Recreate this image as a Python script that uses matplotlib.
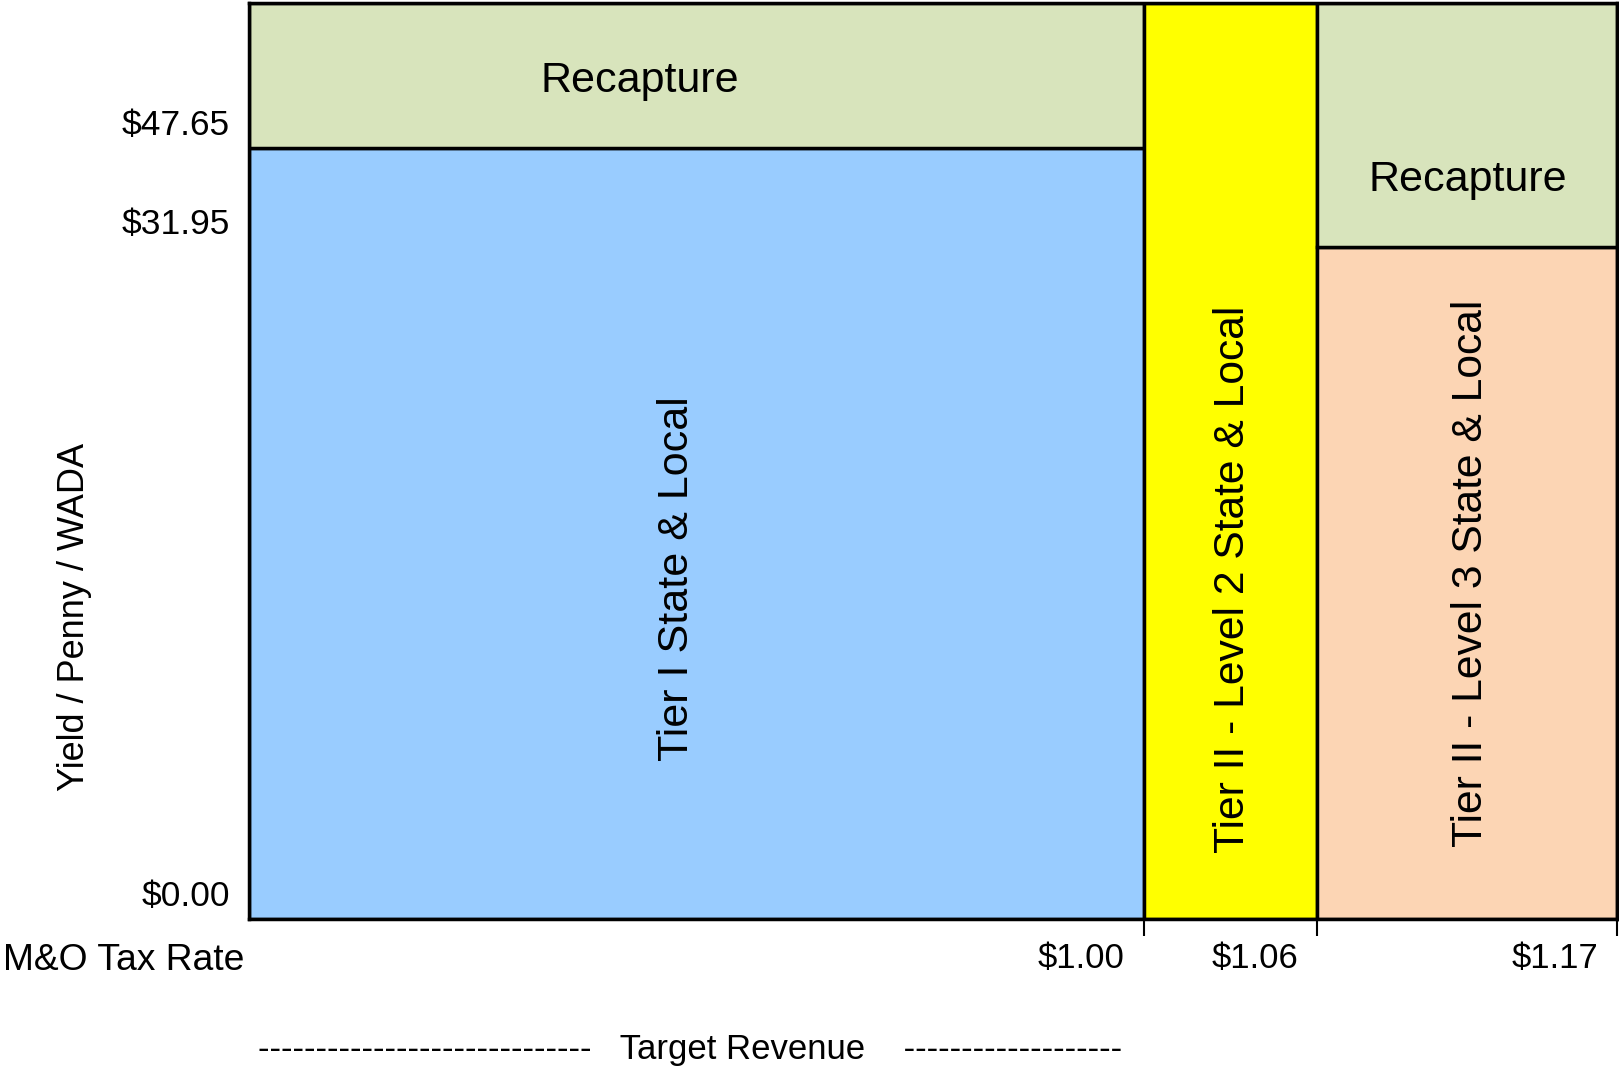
import matplotlib
matplotlib.use("Agg")
import matplotlib.pyplot as plt
from matplotlib.patches import Rectangle

plt.rcParams['font.family'] = ['Liberation Sans', 'DejaVu Sans']

# Funding tiers and the values that mark their boundaries
tax_rate_labels = ["$1.00", "$1.06", "$1.17"]
yield_labels = ["$0.00", "$31.95", "$47.65"]
section_names = ["Tier I State & Local",
                 "Tier II - Level 2 State & Local",
                 "Tier II - Level 3 State & Local"]
recapture_name = "Recapture"

# Schematic layout (fractions of the plotting area; not to scale)
tier_edges = [0.0, 0.654, 0.781, 1.0]
yield_levels = [0.0, 0.734, 0.842]

GREEN = "#D8E4BC"
BLUE = "#99CCFF"
YELLOW = "#FFFF00"
PEACH = "#FCD5B4"
LW = 2.5

W, H = 1619, 1068
fig = plt.figure(figsize=(W / 100, H / 100), dpi=100)
ax = fig.add_axes([249 / W, 1 - 919 / H, (1617 - 249) / W, (919 - 3) / H])
ax.set_xlim(0, 1)
ax.set_ylim(0, 1)

def box(x0, x1, y0, y1, color):
    ax.add_patch(Rectangle((x0, y0), x1 - x0, y1 - y0, facecolor=color,
                           edgecolor="black", linewidth=LW, zorder=2))

# Tier I with recapture above the $47.65 yield
box(tier_edges[0], tier_edges[1], yield_levels[0], yield_levels[2], BLUE)
box(tier_edges[0], tier_edges[1], yield_levels[2], 1.0, GREEN)
# Tier II level 2
box(tier_edges[1], tier_edges[2], yield_levels[0], 1.0, YELLOW)
# Tier II level 3 with recapture above the $31.95 yield
box(tier_edges[2], tier_edges[3], yield_levels[0], yield_levels[1], PEACH)
box(tier_edges[2], tier_edges[3], yield_levels[1], 1.0, GREEN)

for side in ax.spines.values():
    side.set_linewidth(LW)
    side.set_zorder(3)

# Labels inside the sections
ax.text(0.286, 0.915, recapture_name, fontsize=31, ha="center", va="center", zorder=4)
ax.text(0.891, 0.807, recapture_name, fontsize=31, ha="center", va="center", zorder=4)
ax.text(0.3125, 0.372, section_names[0], fontsize=31, rotation=90,
        ha="center", va="center", zorder=4)
ax.text(0.719, 0.371, section_names[1], fontsize=30.7, rotation=90,
        ha="center", va="center", zorder=4)
ax.text(0.8936, 0.377, section_names[2], fontsize=30.7, rotation=90,
        ha="center", va="center", zorder=4)

# Tax-rate ticks at the section boundaries
ax.set_xticks(tier_edges[1:])
ax.set_xticklabels([])
ax.tick_params(axis="x", direction="out", length=12.2, width=1.5, color="black")
ax.set_yticks([])
for x, lab in zip(tier_edges[1:], tax_rate_labels):
    ax.annotate(lab, xy=(x, 0), xycoords=("data", "axes fraction"),
                xytext=(-19, -39), textcoords="offset pixels",
                ha="right", va="center", fontsize=25)

# Yield labels sit just above their boundary lines
for y, lab in zip(yield_levels, yield_labels):
    ax.annotate(lab, xy=(0, y), xycoords=("axes fraction", "data"),
                xytext=(-19, 22), textcoords="offset pixels",
                ha="right", va="center", fontsize=25.5)

fig.text(3 / W, 1 - 960 / H, "M&O Tax Rate", fontsize=26.8, ha="left", va="center")
fig.text(75 / W, 1 - 617 / H, "Yield / Penny / WADA", fontsize=26,
         rotation=90, ha="center", va="center")
fig.text(258 / W, 1 - 1050 / H,
         "-" * 29 + "   Target Revenue    " + "-" * 19,
         fontsize=25, ha="left", va="center")

fig.savefig("out.png", dpi=100)
